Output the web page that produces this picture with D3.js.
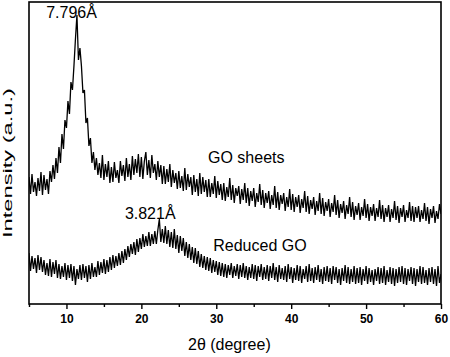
<!DOCTYPE html>
<html>
<head>
<meta charset="utf-8">
<script src="https://cdn.jsdelivr.net/npm/d3@7/dist/d3.min.js"></script>
<style>
  html, body { margin: 0; padding: 0; background: #fff; }
  svg { display: block; }
  text { font-family: "Liberation Sans", Arial, Helvetica, sans-serif; fill: #000; }
</style>
</head>
<body>
<svg id="chart" width="450" height="357"></svg>
<script>
// Scan settings (2θ start angle and step, degrees)
const twoThetaStart = 5;
const twoThetaStep = 0.2;

// Intensity (a.u.), one row per degree (x.0, x.2, x.4, x.6, x.8)
const goSheets = [
  127, 110, 130, 112, 122,   // 5
  108, 126, 113, 132, 109,   // 6
  129, 114, 125, 110, 133,   // 7
  122, 139, 125, 146, 131,   // 8
  157, 141, 170, 155, 184,   // 9
  176, 203, 190, 222, 214,   // 10
  238, 265, 289, 244, 256,   // 11
  238, 211, 214, 181, 186,   // 12
  158, 166, 141, 152, 134,   // 13
  146, 129, 141, 126, 149,   // 14
  124, 140, 127, 143, 121,   // 15
  137, 122, 142, 126, 134,   // 16
  121, 143, 128, 139, 123,   // 17
  146, 127, 140, 124, 148,   // 18
  129, 145, 131, 150, 127,   // 19
  147, 125, 143, 152, 129,   // 20
  144, 126, 149, 131, 140,   // 21
  124, 143, 127, 139, 120,   // 22
  138, 120, 135, 122, 140,   // 23
  117, 134, 121, 131, 115,   // 24
  133, 116, 128, 113, 136,   // 25
  114, 130, 117, 127, 109,   // 26
  129, 112, 125, 108, 131,   // 27
  110, 127, 112, 124, 107,   // 28
  125, 107, 121, 110, 128,   // 29
  106, 123, 109, 120, 104,   // 30
  121, 103, 117, 107, 126,   // 31
  104, 119, 101, 116, 108,   // 32
  118, 100, 115, 104, 121,   // 33
  101, 116,  98, 113, 103,   // 34
  116,  97, 111, 102, 120,   // 35
   99, 114,  96, 111, 101,   // 36
  113,  95, 109,  99, 118,   // 37
   96, 112,  94, 109, 100,   // 38
  111,  93, 107,  97, 115,   // 39
   94, 110,  92, 107,  97,   // 40
  109,  91, 105,  96, 113,   // 41
   92, 108,  90, 104,  95,   // 42
  107,  89, 103,  93, 111,   // 43
   90, 106,  88, 102,  93,   // 44
  105,  87, 101,  92, 109,   // 45
   89, 104,  86, 100,  91,   // 46
  103,  85,  99,  90, 107,   // 47
   87, 102,  84,  98,  89,   // 48
  101,  84,  97,  88, 105,   // 49
   86, 100,  83,  97,  88,   // 50
  100,  83,  96,  87, 104,   // 51
   85,  99,  82,  96,  87,   // 52
   99,  82,  95,  86, 103,   // 53
   84,  98,  81,  96,  87,   // 54
   99,  82,  94,  86, 102,   // 55
   83,  98,  82,  97,  86,   // 56
   98,  82,  94,  85, 101,   // 57
   83,  97,  80,  95,  86,   // 58
   98,  81,  93,  85, 100,   // 59
   90                        // 60
];

const reducedGO = [
  51, 33, 48, 35, 46,   // 5
  31, 49, 34, 47, 32,   // 6
  44, 29, 41, 28, 45,   // 7
  27, 42, 30, 44, 26,   // 8
  40, 25, 38, 27, 41,   // 9
  24, 39, 26, 40, 23,   // 10
  38, 19, 35, 25, 39,   // 11
  24, 40, 26, 38, 22,   // 12
  39, 25, 41, 27, 37,   // 13
  27, 43, 29, 42, 31,   // 14
  45, 30, 44, 32, 47,   // 15
  34, 49, 36, 48, 38,   // 16
  51, 39, 53, 41, 55,   // 17
  44, 58, 47, 60, 50,   // 18
  62, 49, 65, 52, 66,   // 19
  55, 70, 57, 68, 58,   // 20
  72, 58, 70, 60, 73,   // 21
  60, 74, 85, 62, 75,   // 22
  61, 78, 60, 74, 57,   // 23
  72, 56, 75, 55, 69,   // 24
  51, 68, 53, 66, 48,   // 25
  62, 46, 60, 44, 57,   // 26
  41, 56, 40, 53, 37,   // 27
  50, 36, 48, 34, 47,   // 28
  33, 46, 31, 44, 32,   // 29
  43, 29, 42, 28, 41,   // 30
  27, 40, 26, 39, 29,   // 31
  41, 26, 38, 28, 40,   // 32
  25, 39, 27, 41, 26,   // 33
  38, 24, 37, 26, 40,   // 34
  25, 39, 23, 38, 27,   // 35
  40, 24, 37, 25, 39,   // 36
  23, 38, 26, 41, 24,   // 37
  37, 22, 39, 25, 36,   // 38
  24, 38, 22, 40, 25,   // 39
  37, 21, 36, 24, 39,   // 40
  23, 38, 21, 35, 25,   // 41
  38, 22, 40, 23, 36,   // 42
  21, 37, 24, 39, 22,   // 43
  35, 20, 37, 23, 38,   // 44
  22, 36, 20, 38, 24,   // 45
  37, 21, 35, 19, 36,   // 46
  23, 39, 21, 37, 20,   // 47
  35, 22, 38, 20, 36,   // 48
  21, 37, 19, 35, 23,   // 49
  38, 20, 36, 22, 34,   // 50
  19, 35, 23, 37, 20,   // 51
  36, 21, 38, 19, 34,   // 52
  22, 37, 20, 36, 18,   // 53
  35, 21, 37, 22, 38,   // 54
  20, 36, 19, 35, 23,   // 55
  37, 20, 36, 18, 35,   // 56
  22, 38, 20, 37, 21,   // 57
  34, 19, 36, 22, 37,   // 58
  20, 35, 18, 38, 21,   // 59
  30                    // 60
];

const xDomain = [5, 60];
const yDomain = [0, 302];
const majorTicks = [10, 20, 30, 40, 50, 60];
const minorTicks = [5, 15, 25, 35, 45, 55];

const annotations = [
  { text: "7.796Å", x: 7.3, y: 286, size: 16 },
  { text: "3.821Å", x: 17.8, y: 85, size: 16 },
  { text: "GO sheets", x: 28.9, y: 141, size: 16 },
  { text: "Reduced GO", x: 29.6, y: 53, size: 16 }
];

// ---- layout ----
const mLeft = 29, mRight = 441, mTop = 2, mBottom = 304;
const svg = d3.select("#chart");

const x = d3.scaleLinear().domain(xDomain).range([mLeft, mRight]);
const y = d3.scaleLinear().domain(yDomain).range([mBottom, mTop]);

const line = d3.line()
  .x((d, i) => x(twoThetaStart + i * twoThetaStep))
  .y(d => y(d));

svg.append("defs").append("clipPath").attr("id", "clip")
  .append("rect").attr("x", mLeft).attr("y", mTop)
  .attr("width", mRight - mLeft).attr("height", mBottom - mTop);

const plot = svg.append("g").attr("clip-path", "url(#clip)");
[goSheets, reducedGO].forEach(series => {
  plot.append("path")
    .datum(series)
    .attr("d", line)
    .attr("fill", "none")
    .attr("stroke", "#000")
    .attr("stroke-width", 1.3)
    .attr("stroke-linejoin", "bevel");
});

// frame
svg.append("rect")
  .attr("x", mLeft).attr("y", mTop)
  .attr("width", mRight - mLeft).attr("height", mBottom - mTop)
  .attr("fill", "none").attr("stroke", "#000").attr("stroke-width", 1.6);

// bottom axis - minor ticks
svg.append("g")
  .attr("transform", `translate(0,${mBottom})`)
  .call(d3.axisBottom(x).tickValues(minorTicks).tickSize(3).tickFormat(""))
  .call(g => g.select(".domain").remove())
  .call(g => g.selectAll("line").attr("stroke-width", 1.4));

// bottom axis - major ticks with labels
svg.append("g")
  .attr("transform", `translate(0,${mBottom})`)
  .call(d3.axisBottom(x).tickValues(majorTicks).tickSize(5).tickPadding(5).tickFormat(d3.format("d")))
  .call(g => g.select(".domain").remove())
  .call(g => g.selectAll("line").attr("stroke-width", 1.4))
  .call(g => g.selectAll("text")
    .attr("font-family", "\"Liberation Sans\", Arial, sans-serif")
    .attr("font-size", 12)
    .attr("font-weight", "bold")
    .attr("fill", "#000"));

// axis titles
svg.append("text")
  .attr("x", 188).attr("y", 350)
  .attr("font-size", 16)
  .text("2θ (degree)");

svg.append("text")
  .attr("transform", "translate(12,163) rotate(-90)")
  .attr("text-anchor", "middle")
  .attr("font-size", 13)
  .attr("textLength", 150)
  .attr("lengthAdjust", "spacingAndGlyphs")
  .text("Intensity (a.u.)");

// annotations
svg.selectAll("text.ann")
  .data(annotations)
  .enter().append("text")
  .attr("class", "ann")
  .attr("x", d => x(d.x))
  .attr("y", d => y(d.y))
  .attr("font-size", d => d.size)
  .text(d => d.text);
</script>
</body>
</html>
